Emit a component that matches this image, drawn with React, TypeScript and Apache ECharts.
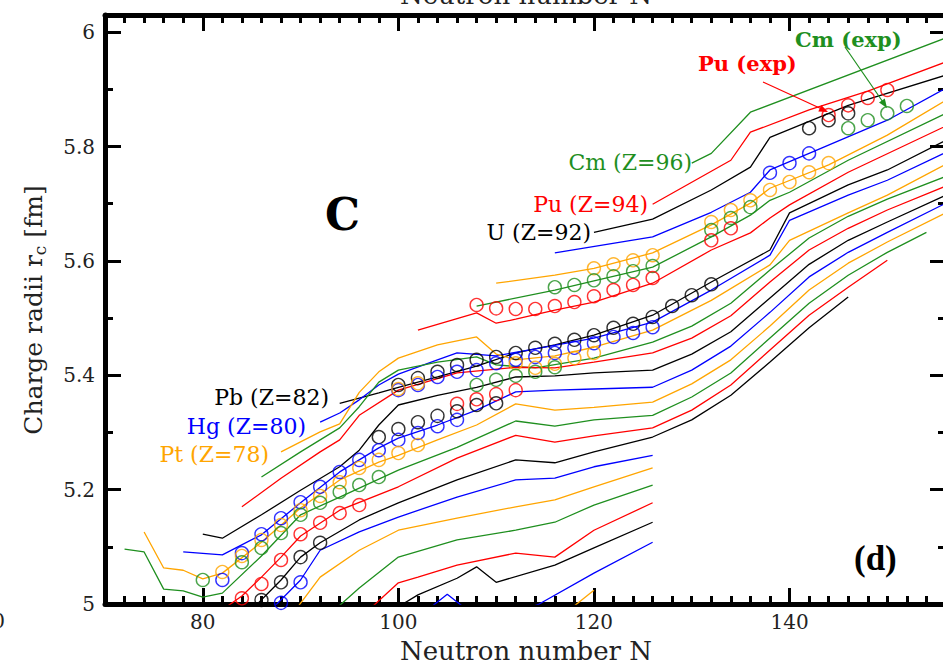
import React, { useEffect, useRef } from "react";
import * as echarts from "echarts";

// ---------- axis ticks ----------
const X_MAJOR = [80, 100, 120, 140];
const Y_MAJOR = [5, 5.2, 5.4, 5.6, 5.8, 6];
const Y_MINOR = [5.1, 5.3, 5.5, 5.7, 5.9];

// ---------- calculated isotope chains [N, r_c] ----------
const CM96 = [[130,5.771],[132,5.788],[136,5.860],[156,5.990]];
const PU94 = [[126,5.699],[134,5.776],[136,5.825],[142,5.864],[148,5.897],[156,5.948]];
const U92 = [[120,5.650],[126,5.673],[132,5.724],[136,5.764],[138,5.816],[146,5.872],[156,5.925]];
const TH90 = [[116,5.614],[126,5.642],[132,5.685],[136,5.720],[138,5.759],[142,5.788],[150,5.846],[156,5.902]];
const RA88 = [[110,5.561],[116,5.575],[120,5.587],[126,5.614],[132,5.663],[136,5.701],[138,5.727],[144,5.768],[150,5.820],[156,5.881]];
const RN86 = [[108,5.521],[116,5.549],[120,5.565],[126,5.589],[132,5.642],[136,5.680],[138,5.706],[140,5.720],[146,5.776],[156,5.858]];
const PO84 = [[102,5.479],[108,5.509],[110,5.491],[112,5.498],[116,5.514],[120,5.528],[126,5.561],[132,5.619],[136,5.649],[138,5.675],[140,5.698],[146,5.755],[156,5.836]];
const PB82 = [[94,5.351],[98,5.369],[100,5.379],[104,5.397],[108,5.416],[112,5.439],[116,5.453],[120,5.470],[126,5.505],[132,5.563],[138,5.619],[140,5.684],[146,5.733],[150,5.759],[156,5.811]];
const HG80 = [[92,5.318],[94,5.334],[96,5.357],[98,5.383],[100,5.402],[104,5.427],[106,5.439],[110,5.434],[114,5.446],[120,5.465],[126,5.493],[132,5.549],[138,5.610],[140,5.671],[146,5.715],[150,5.741],[156,5.790]];
const PT78 = [[88,5.266],[92,5.301],[94,5.315],[96,5.370],[98,5.406],[100,5.430],[104,5.453],[108,5.467],[110,5.437],[112,5.427],[116,5.434],[120,5.449],[126,5.479],[132,5.531],[138,5.593],[140,5.636],[146,5.684],[150,5.715],[156,5.769]];
const OS76 = [[86,5.222],[90,5.266],[94,5.308],[96,5.345],[98,5.388],[100,5.409],[104,5.423],[108,5.432],[110,5.418],[114,5.413],[120,5.430],[126,5.458],[130,5.486],[134,5.526],[138,5.584],[142,5.640],[146,5.678],[150,5.708],[156,5.748]];
const W74 = [[84,5.170],[88,5.220],[92,5.266],[94,5.287],[96,5.330],[100,5.374],[106,5.404],[112,5.414],[116,5.413],[120,5.423],[126,5.439],[130,5.465],[134,5.504],[138,5.563],[142,5.619],[146,5.657],[150,5.689],[156,5.731]];
const HF72 = [[80,5.122],[82,5.115],[86,5.156],[90,5.199],[94,5.240],[96,5.269],[98,5.313],[100,5.348],[104,5.365],[108,5.379],[112,5.397],[116,5.399],[120,5.404],[126,5.409],[130,5.437],[134,5.476],[138,5.535],[142,5.594],[146,5.636],[150,5.668],[156,5.715]];
const YB70 = [[78,5.091],[82,5.086],[86,5.121],[90,5.177],[94,5.231],[98,5.273],[100,5.290],[104,5.313],[108,5.339],[112,5.371],[116,5.374],[120,5.376],[126,5.379],[130,5.409],[134,5.451],[138,5.510],[142,5.572],[146,5.615],[150,5.650],[156,5.701]];
const ER68 = [[74,5.126],[76,5.063],[78,5.059],[80,5.044],[82,5.054],[86,5.108],[90,5.168],[94,5.217],[98,5.248],[100,5.260],[104,5.287],[108,5.313],[112,5.350],[116,5.339],[120,5.344],[126,5.353],[130,5.385],[134,5.427],[138,5.486],[142,5.549],[146,5.596],[150,5.633],[156,5.684]];
const DY66 = [[72,5.096],[74,5.091],[76,5.026],[78,5.023],[80,5.012],[82,5.019],[86,5.084],[90,5.156],[94,5.187],[100,5.234],[106,5.274],[112,5.320],[116,5.311],[120,5.322],[126,5.330],[130,5.362],[134,5.404],[138,5.465],[142,5.526],[146,5.575],[150,5.615],[154,5.650]];
const GD64 = [[82,4.99],[84,5.014],[86,5.047],[88,5.082],[90,5.119],[94,5.164],[100,5.205],[106,5.255],[112,5.295],[116,5.283],[120,5.294],[126,5.308],[130,5.339],[134,5.383],[138,5.444],[142,5.505],[146,5.554],[150,5.601]];
const SM62 = [[85,4.99],[88,5.042],[90,5.082],[92,5.107],[96,5.147],[100,5.177],[106,5.217],[112,5.252],[116,5.247],[120,5.266],[126,5.292],[130,5.322],[134,5.365],[138,5.423],[142,5.483],[146,5.537]];
const ND60 = [[87,4.99],[90,5.042],[92,5.094],[96,5.126],[100,5.152],[106,5.187],[112,5.217],[116,5.220],[120,5.240],[126,5.260]];
const CE58 = [[89.5,4.99],[92,5.047],[96,5.094],[100,5.129],[106,5.150],[112,5.170],[116,5.182],[120,5.205],[126,5.238]];
const BA56 = [[93.5,4.99],[96,5.028],[100,5.082],[106,5.112],[112,5.129],[116,5.143],[120,5.173],[126,5.208]];
const XE54 = [[97,4.99],[100,5.037],[102,5.047],[106,5.068],[112,5.089],[116,5.082],[120,5.129],[126,5.177]];
const TE52 = [[99.5,4.99],[102,5.016],[106,5.045],[108,5.065],[110,5.038],[116,5.068],[120,5.098],[126,5.143]];
const SN50 = [[103,4.99],[105,5.017],[107,4.99],[110,4.97],[114.4,5.0],[120,5.054],[126,5.108]];
const CD48 = [[117.5,4.99],[120,5.024]];

// ---------- experimental radii [N, r_c] ----------
const PU_EXP = [[144,5.855],[146,5.872],[148,5.885],[150,5.899]];
const CM_EXP = [[146,5.832],[148,5.846],[150,5.858],[152,5.871]];
const U_EXP = [[142,5.832],[144,5.846],[146,5.858]];
const TH_EXP = [[138,5.754],[140,5.771],[142,5.788]];
const RA_EXP = [[120,5.587],[122,5.594],[124,5.601],[126,5.610],[132,5.668],[134,5.689],[136,5.706],[138,5.724],[140,5.738],[142,5.755],[144,5.771]];
const RN_EXP = [[116,5.554],[118,5.558],[120,5.566],[122,5.573],[124,5.582],[126,5.591],[132,5.654],[134,5.675],[136,5.694]];
const PO_EXP = [[108,5.523],[110,5.517],[112,5.516],[114,5.516],[116,5.521],[118,5.528],[120,5.538],[122,5.549],[124,5.558],[126,5.570],[132,5.636],[134,5.657]];
const PB_EXP = [[100,5.383],[102,5.395],[104,5.406],[106,5.418],[108,5.427],[110,5.432],[112,5.439],[114,5.448],[116,5.455],[118,5.462],[120,5.470],[122,5.483],[124,5.490],[126,5.502],[128,5.521],[130,5.540],[132,5.559]];
const HG_EXP = [[100,5.374],[102,5.383],[104,5.397],[106,5.406],[108,5.409],[110,5.421],[112,5.427],[114,5.432],[116,5.439],[118,5.448],[120,5.456],[122,5.467],[124,5.474],[126,5.484]];
const PT_EXP = [[100,5.376],[102,5.386],[112,5.421],[114,5.413],[116,5.420],[118,5.430],[120,5.439]];
const OS_EXP = [[108,5.383],[110,5.392],[112,5.399],[114,5.406],[116,5.414]];
const W_EXP = [[106,5.350],[108,5.358],[110,5.367],[112,5.374]];
const HF_EXP = [[98,5.292],[100,5.306],[102,5.318],[104,5.329],[106,5.337],[108,5.348],[110,5.351]];
const YB_EXP = [[82,5.042],[84,5.089],[86,5.122],[88,5.150],[90,5.178],[92,5.205],[94,5.231],[96,5.252],[98,5.269],[100,5.287],[102,5.299],[104,5.311],[106,5.322]];
const ER_EXP = [[82,5.056],[84,5.084],[86,5.112],[88,5.138],[90,5.164],[92,5.189],[94,5.213],[96,5.238],[98,5.252],[100,5.264],[102,5.278]];
const DY_EXP = [[80,5.042],[84,5.073],[86,5.098],[88,5.124],[90,5.156],[92,5.177],[94,5.196],[96,5.208],[98,5.222]];
const GD_EXP = [[84,5.010],[86,5.035],[88,5.077],[90,5.122],[92,5.142],[94,5.159],[96,5.173]];
const SM_EXP = [[86,5.007],[88,5.038],[90,5.082],[92,5.107]];
const ND_EXP = [[88,5.002],[90,5.038]];

const GREEN = "#1f8f1f";
const RED = "#ff0000";
const BLACK = "#000000";
const BLUE = "#0000ff";
const ORANGE = "#ffa500";

const CHAINS: [number[][], string][] = [
  [CM96, GREEN], [PU94, RED], [U92, BLACK], [TH90, BLUE], [RA88, ORANGE],
  [RN86, GREEN], [PO84, RED], [PB82, BLACK], [HG80, BLUE], [PT78, ORANGE],
  [OS76, GREEN], [W74, RED], [HF72, BLACK], [YB70, BLUE], [ER68, ORANGE],
  [DY66, GREEN], [GD64, RED], [SM62, BLACK], [ND60, BLUE], [CE58, ORANGE],
  [BA56, GREEN], [XE54, RED], [TE52, BLACK], [SN50, BLUE], [CD48, ORANGE],
];
const EXPS: [number[][], string][] = [
  [PU_EXP, RED], [CM_EXP, GREEN], [U_EXP, BLACK], [TH_EXP, BLUE], [RA_EXP, ORANGE],
  [RN_EXP, GREEN], [PO_EXP, RED], [PB_EXP, BLACK], [HG_EXP, BLUE], [PT_EXP, ORANGE],
  [OS_EXP, GREEN], [W_EXP, RED], [HF_EXP, BLACK], [YB_EXP, BLUE], [ER_EXP, ORANGE],
  [DY_EXP, GREEN], [GD_EXP, RED], [SM_EXP, BLACK], [ND_EXP, BLUE],
];

const SERIF = "DejaVu Serif";

function label(text: string, x: number, y: number, color: string, align = "right", size = 22, weight = "normal", family = SERIF) {
  return {
    type: "text", x, y, z: 100, silent: true,
    style: { text, fill: color, fontSize: size, fontFamily: family, fontWeight: weight, align, verticalAlign: "middle" },
  };
}

export default function App() {
  const ref = useRef<HTMLDivElement>(null);
  useEffect(() => {
    if (!ref.current) return;
    const chart = echarts.init(ref.current, null, { renderer: "svg" });
    const tickLine = { color: "#000", width: 3 };
    const axisLine = { show: true, onZero: false, lineStyle: { color: "#000", width: 5 } };
    const xBase: any = { type: "value", min: 70, max: 156, gridIndex: 0, splitLine: { show: false } };
    const yBase: any = { type: "value", min: 5, max: 6.03, gridIndex: 0, splitLine: { show: false } };
    const series: any[] = [];
    CHAINS.forEach(([d, c]) => series.push({
      type: "line", data: d, symbol: "none", showSymbol: false, silent: true, clip: true, z: 2,
      lineStyle: { color: c, width: 1.3 }, itemStyle: { color: c },
    }));
    EXPS.forEach(([d, c]) => series.push({
      type: "scatter", data: d, symbol: "circle", symbolSize: 13, silent: true, z: 3,
      itemStyle: { color: "rgba(0,0,0,0)", borderColor: c, borderWidth: 1.4 },
    }));
    const option: any = {
      animation: false,
      backgroundColor: "#ffffff",
      grid: { left: 105, top: 15, width: 841, height: 589, containLabel: false },
      xAxis: [
        { ...xBase, position: "bottom", axisLine,
          axisTick: { show: true, inside: true, length: 16, lineStyle: tickLine, customValues: X_MAJOR },
          axisLabel: { show: true, customValues: X_MAJOR, margin: 8, color: "#222", fontSize: 20, fontFamily: SERIF } },
        { ...xBase, position: "bottom", interval: 2, axisLine: { show: false },
          axisTick: { show: true, inside: true, length: 8, lineStyle: tickLine }, axisLabel: { show: false } },
        { ...xBase, position: "top", axisLine,
          axisTick: { show: true, inside: true, length: 16, lineStyle: tickLine, customValues: X_MAJOR }, axisLabel: { show: false } },
        { ...xBase, position: "top", interval: 2, axisLine: { show: false },
          axisTick: { show: true, inside: true, length: 8, lineStyle: tickLine }, axisLabel: { show: false } },
      ],
      yAxis: [
        { ...yBase, position: "left", axisLine,
          axisTick: { show: true, inside: true, length: 16, lineStyle: tickLine, customValues: Y_MAJOR },
          axisLabel: { show: true, customValues: Y_MAJOR, margin: 10, color: "#222", fontSize: 20, fontFamily: SERIF,
            formatter: (v: number) => String(Math.round(v * 10) / 10) } },
        { ...yBase, position: "left", axisLine: { show: false },
          axisTick: { show: true, inside: true, length: 8, lineStyle: tickLine, customValues: Y_MINOR }, axisLabel: { show: false } },
        { ...yBase, position: "right", axisLine,
          axisTick: { show: true, inside: true, length: 16, lineStyle: tickLine, customValues: Y_MAJOR }, axisLabel: { show: false } },
        { ...yBase, position: "right", axisLine: { show: false },
          axisTick: { show: true, inside: true, length: 8, lineStyle: tickLine, customValues: Y_MINOR }, axisLabel: { show: false } },
      ],
      series,
      graphic: [
        label("Neutron number N", 526, 651, "#222", "center", 26),
        label("Neutron number N", 526, -5, "#222", "center", 26),
        label("0", 5, 621, "#222", "right", 20),
        {
          type: "text", x: 33, y: 310, rotation: Math.PI / 2, z: 100, silent: true,
          style: {
            text: "{a|Charge radii r}{s|c}{a| [fm]}", fill: "#222", align: "center", verticalAlign: "middle",
            rich: {
              a: { fontSize: 25, fontFamily: SERIF, lineHeight: 30, verticalAlign: "middle", fill: "#222" },
              s: { fontSize: 17, fontFamily: SERIF, lineHeight: 30, verticalAlign: "bottom", fill: "#222" },
            },
          },
        },
        label("C", 325, 214, "#000", "left", 44, "bold"),
        label("(d)", 854, 558, "#000", "left", 35, "bold", "Liberation Serif"),
        label("Cm (exp)", 795, 39, GREEN, "left", 21, "bold"),
        label("Pu (exp)", 698, 63, RED, "left", 21, "bold"),
        label("Cm (Z=96)", 692, 162, GREEN, "right", 22),
        label("Pu (Z=94)", 648, 204, RED, "right", 22),
        label("U (Z=92)", 591, 232, BLACK, "right", 22),
        label("Pb (Z=82)", 329, 397, BLACK, "right", 22),
        label("Hg (Z=80)", 306, 426, BLUE, "right", 22),
        label("Pt (Z=78)", 269, 454, ORANGE, "right", 22),
        { type: "line", z: 100, silent: true, shape: { x1: 763, y1: 82, x2: 824, y2: 110 }, style: { stroke: RED, lineWidth: 1.2 } },
        { type: "polygon", z: 100, silent: true, shape: { points: [[828, 112], [818.3, 111.4], [821.3, 105.0]] }, style: { fill: RED } },
        { type: "line", z: 100, silent: true, shape: { x1: 845, y1: 47, x2: 885, y2: 105 }, style: { stroke: GREEN, lineWidth: 1.2 } },
        { type: "polygon", z: 100, silent: true, shape: { points: [[887, 108], [879.0, 102.6], [884.8, 98.6]] }, style: { fill: GREEN } },
      ],
    };
    chart.setOption(option);
    return () => chart.dispose();
  }, []);
  return (
    <div style={{ position: "absolute", left: 0, top: 0, width: 943, height: 666, overflow: "hidden", background: "#fff" }}>
      <div ref={ref} style={{ width: 970, height: 666 }} />
    </div>
  );
}
